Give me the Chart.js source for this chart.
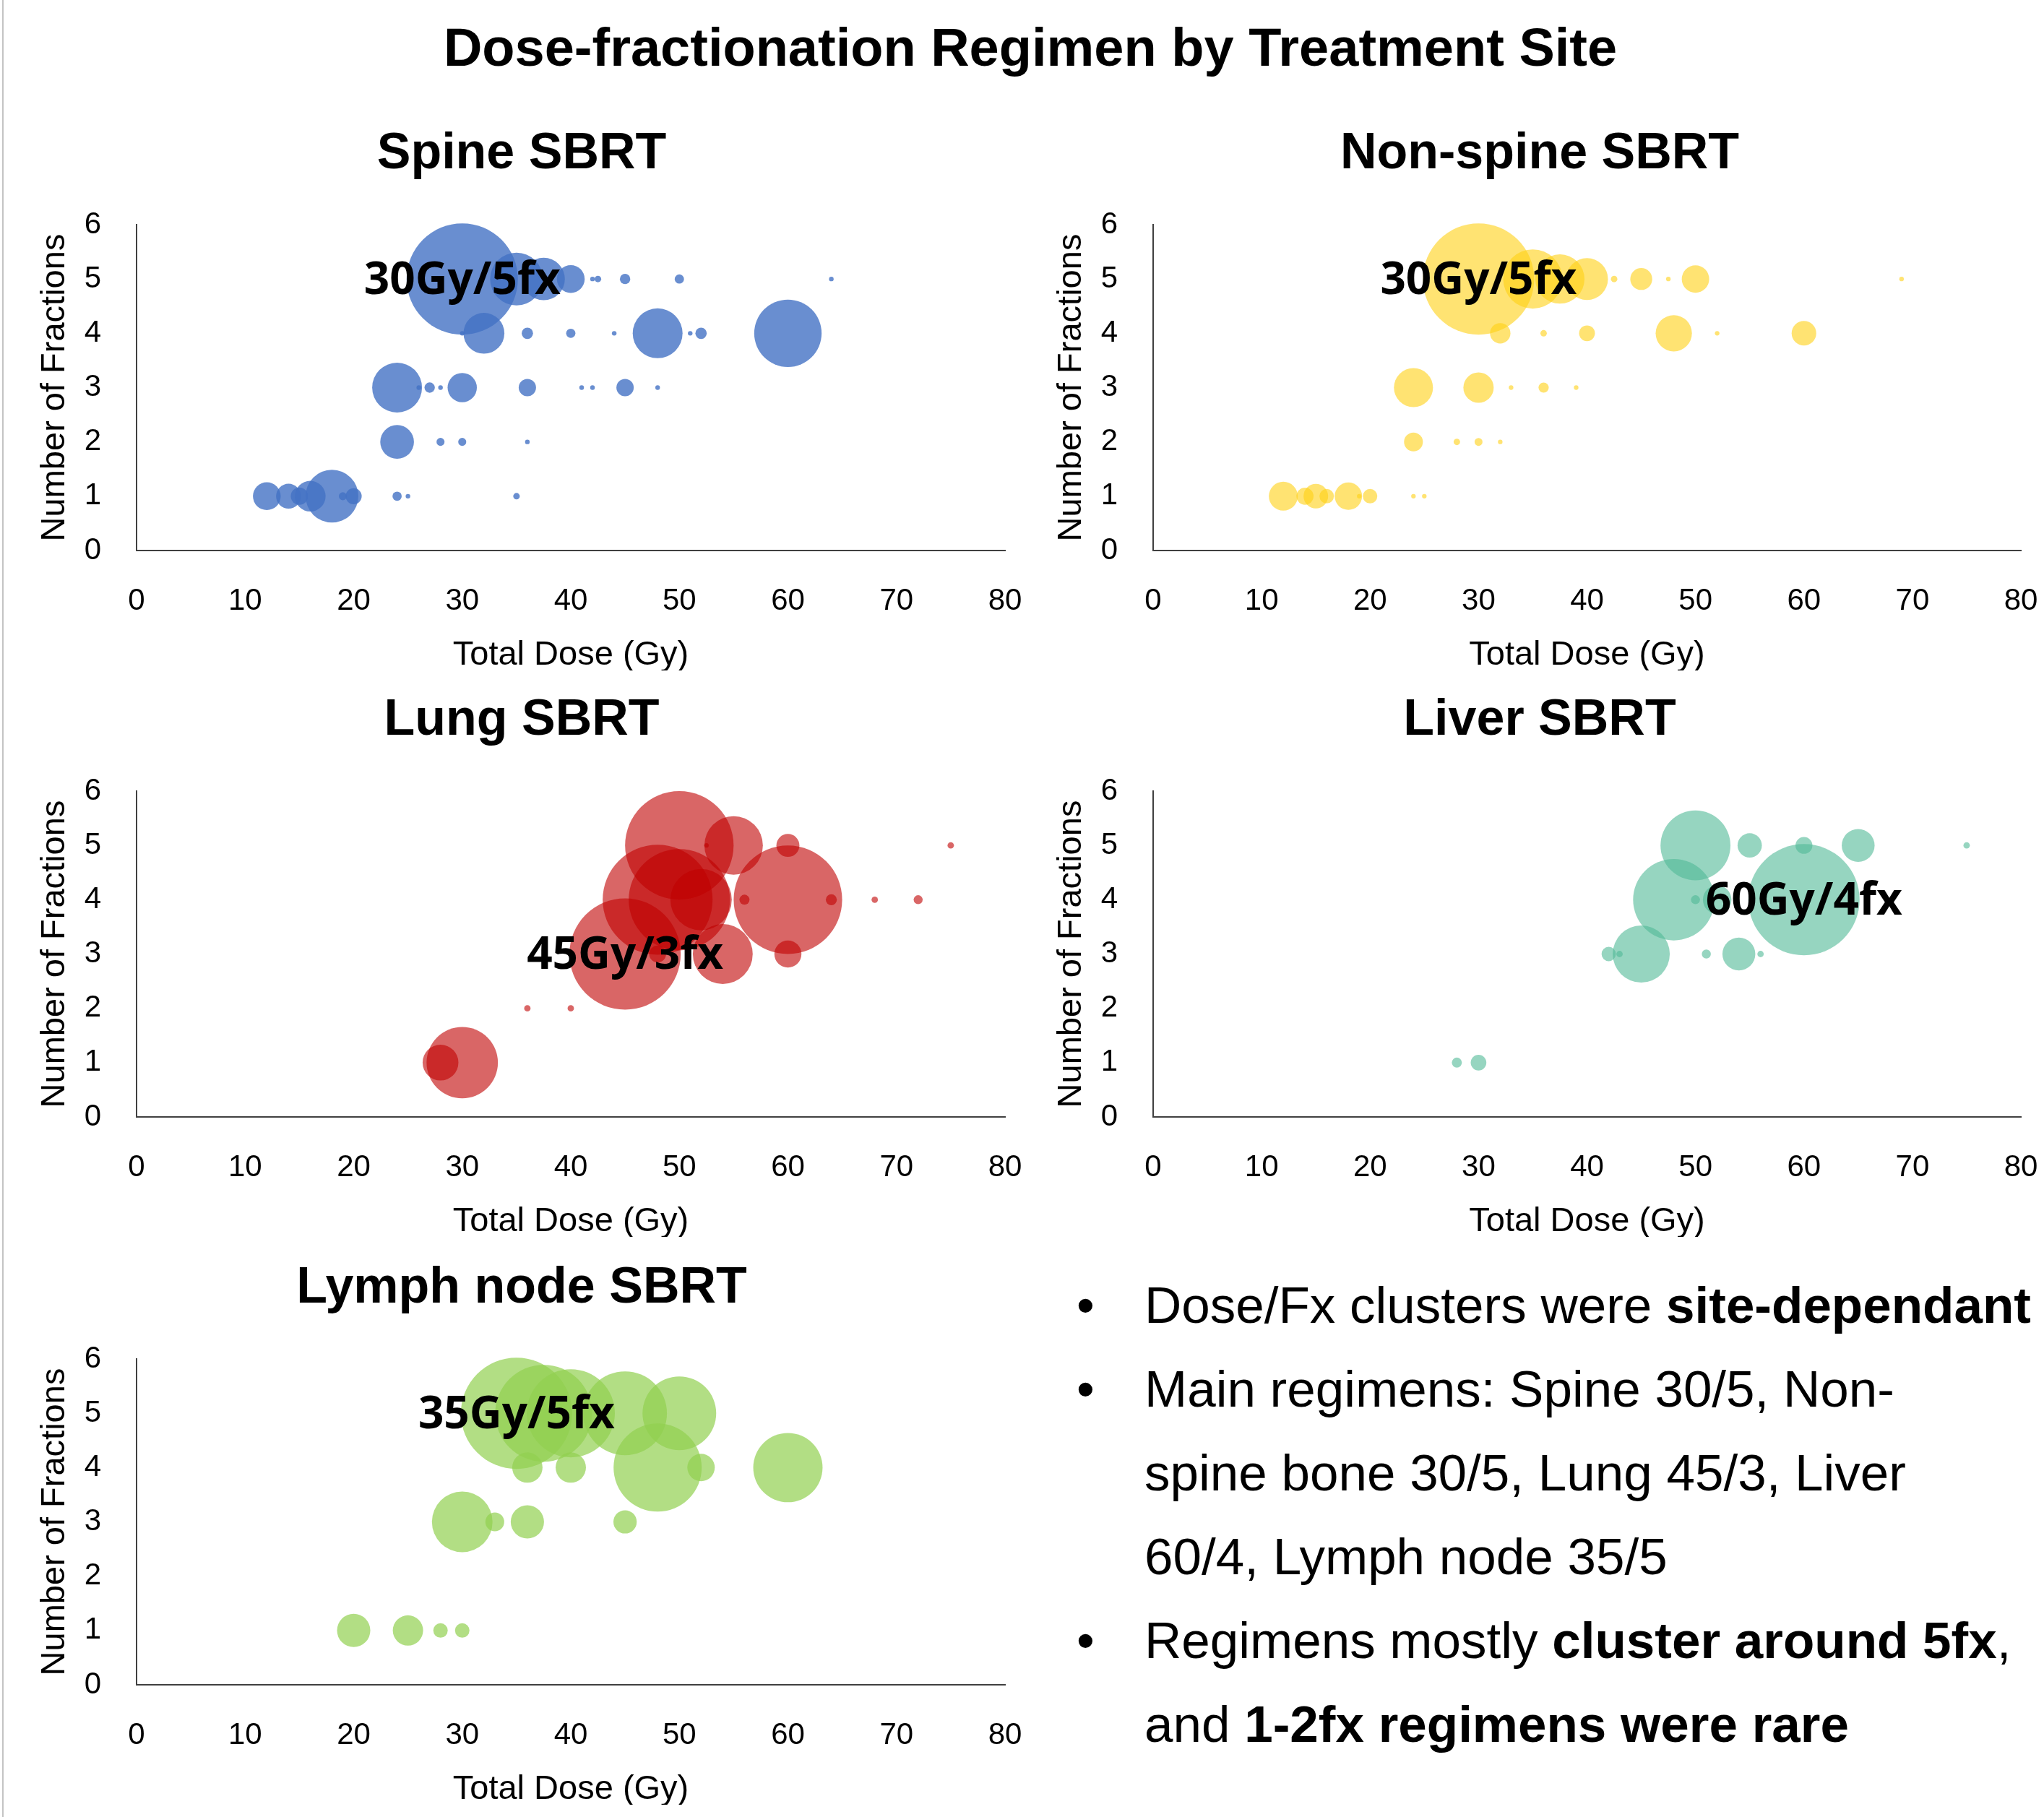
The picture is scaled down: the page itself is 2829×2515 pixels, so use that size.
<!DOCTYPE html>
<html>
<head>
<meta charset="utf-8">
<title>Dose-fractionation Regimen by Treatment Site</title>
<script src="https://cdn.jsdelivr.net/npm/chart.js@4.4.1/dist/chart.umd.min.js"></script>
<style>
  html, body { margin: 0; padding: 0; background: #fff; }
  body { width: 2829px; height: 2515px; position: relative; overflow: hidden;
         font-family: "Liberation Sans", Arial, sans-serif; color: #000; }
  .edge { position: absolute; left: 3px; top: 0; width: 2px; height: 2515px; background: #c4c4c4; }
  #mainTitle { position: absolute; left: 426px; width: 2000px; top: 29px; text-align: center;
               font-weight: bold; font-size: 74px; line-height: 73px; white-space: nowrap; }
  canvas { position: absolute; }
  #notes { position: absolute; left: 1584px; top: 1749px; font-size: 71px; line-height: 116px; white-space: nowrap; }
  #notes .item { position: relative; }
  #notes .item::before { content: "\2022"; position: absolute; left: -94px; }
</style>
</head>
<body>
<div class="edge"></div>
<div id="mainTitle">Dose-fractionation Regimen by Treatment Site</div>
<canvas id="spine" width="1420" height="759"></canvas>
<canvas id="nonspine" width="1409" height="759"></canvas>
<canvas id="lung" width="1420" height="759"></canvas>
<canvas id="liver" width="1409" height="759"></canvas>
<canvas id="lymph" width="1420" height="759"></canvas>
<div id="notes">
  <div class="item">Dose/Fx clusters were <b>site-dependant</b></div>
  <div class="item">Main regimens: Spine 30/5, Non-<br>spine bone 30/5, Lung 45/3, Liver<br>60/4, Lymph node 35/5</div>
  <div class="item">Regimens mostly <b>cluster around 5fx</b>,<br>and <b>1-2fx regimens were rare</b></div>
</div>
<script>
// axis ticks
const X_TICKS = [0, 10, 20, 30, 40, 50, 60, 70, 80];
const Y_TICKS = [0, 1, 2, 3, 4, 5, 6];

// Spine SBRT: total dose (Gy), fractions, patients
const spineDose  = [30, 35, 37.5, 40, 42, 42.5, 45, 50, 64,  30, 32, 36, 40, 44, 48, 51, 52, 60,  24, 26, 27, 28, 30, 36, 41, 42, 45, 48,  24, 28, 30, 36,  12, 14, 15, 16, 18, 19, 20, 24, 25, 35];
const spineFx    = [5, 5, 5, 5, 5, 5, 5, 5, 5,  4, 4, 4, 4, 4, 4, 4, 4, 4,  3, 3, 3, 3, 3, 3, 3, 3, 3, 3,  2, 2, 2, 2,  1, 1, 1, 1, 1, 1, 1, 1, 1, 1];
const spineCount = [578, 130, 84, 36, 1, 2, 5, 4, 1,  1, 78, 6, 4, 1, 116, 1, 6, 212,  116, 1, 5, 1, 40, 14, 1, 1, 14, 1,  53, 3, 3, 1,  36, 29, 14, 44, 130, 3, 12, 4, 1, 2];

// Non-spine SBRT
const nonspineDose  = [30, 35, 37.5, 40, 42.5, 45, 47.5, 50, 69,  32, 36, 40, 48, 52, 60,  24, 30, 33, 36, 39,  24, 28, 30, 32,  12, 14, 15, 16, 18, 19, 20, 24, 25];
const nonspineFx    = [5, 5, 5, 5, 5, 5, 5, 5, 5,  4, 4, 4, 4, 4, 4,  3, 3, 3, 3, 3,  2, 2, 2, 2,  1, 1, 1, 1, 1, 1, 1, 1, 1];
const nonspineCount = [593, 168, 116, 84, 2, 23, 1, 36, 1,  20, 2, 12, 63, 1, 29,  73, 44, 1, 5, 1,  17, 2, 3, 1,  40, 14, 29, 10, 36, 1, 10, 1, 1];

// Lung SBRT
const lungDose  = [50, 52.5, 55, 60, 75,  48, 50, 52, 56, 60, 64, 68, 72,  45, 48, 54, 60,  36, 40,  28, 30];
const lungFx    = [5, 5, 5, 5, 5,  4, 4, 4, 4, 4, 4, 4, 4,  3, 3, 3, 3,  2, 2,  1, 1];
const lungCount = [578, 1, 168, 26, 2,  593, 504, 185, 5, 578, 6, 2, 4,  608, 14, 176, 36,  2, 2,  63, 250];

// Liver SBRT
const liverDose  = [50, 55, 60, 65, 75,  48, 50, 52, 60,  42, 43, 45, 51, 54, 56,  28, 30];
const liverFx    = [5, 5, 5, 5, 5,  4, 4, 4, 4,  3, 3, 3, 3, 3, 3,  1, 1];
const liverCount = [240, 29, 14, 53, 2,  325, 4, 40, 608,  10, 2, 160, 4, 53, 2,  5, 12];

// Lymph node SBRT
const lymphDose  = [35, 37.5, 40, 45, 50,  36, 40, 48, 52, 60,  30, 33, 36, 45,  20, 25, 28, 30];
const lymphFx    = [5, 5, 5, 5, 5,  4, 4, 4, 4, 4,  3, 3, 3, 3,  1, 1, 1, 1];
const lymphCount = [593, 449, 372, 336, 260,  44, 44, 372, 36, 230,  176, 17, 53, 26,  53, 44, 10, 10];

// main regimen per site
const siteNames      = ["Spine SBRT", "Non-spine SBRT", "Lung SBRT", "Liver SBRT", "Lymph node SBRT"];
const mainDose       = [30, 30, 45, 60, 35];
const mainFx         = [5, 5, 3, 4, 5];
const mainLabel      = ["30Gy/5fx", "30Gy/5fx", "45Gy/3fx", "60Gy/4fx", "35Gy/5fx"];

const FONT = '"Liberation Sans", Arial, sans-serif';
const R_MAX = 77; // px radius of the biggest bubble in each panel

function bubbleR(n, nMax) {
  return R_MAX * Math.sqrt(n / nMax);
}

// centred data label on the main regimen
const regimenLabel = {
  id: "regimenLabel",
  afterDatasetsDraw(chart, args, opts) {
    const { ctx, scales: { x, y } } = chart;
    ctx.save();
    ctx.font = 'bold 62px "Open Sans"';
    ctx.fillStyle = "#000";
    ctx.textAlign = "center";
    ctx.textBaseline = "middle";
    ctx.fillText(opts.text, x.getPixelForValue(opts.dose), y.getPixelForValue(opts.fx) + 3);
    ctx.restore();
  }
};

const panels = [
  { id: "spine",    dose: spineDose,    fx: spineFx,    count: spineCount,    color: "rgba(68,114,196,0.8)", left: 0,    top: 169,  padL: 53, padR: 29, yTitlePad: 0 },
  { id: "nonspine", dose: nonspineDose, fx: nonspineFx, count: nonspineCount, color: "rgba(255,208,20,0.6)", left: 1420, top: 169,  padL: 45, padR: 32, yTitlePad: -5.5 },
  { id: "lung",     dose: lungDose,     fx: lungFx,     count: lungCount,     color: "rgba(192,0,0,0.6)",    left: 0,    top: 953,  padL: 53, padR: 29, yTitlePad: 0 },
  { id: "liver",    dose: liverDose,    fx: liverFx,    count: liverCount,    color: "rgba(80,185,150,0.6)", left: 1420, top: 953,  padL: 45, padR: 32, yTitlePad: -5.5 },
  { id: "lymph",    dose: lymphDose,    fx: lymphFx,    count: lymphCount,    color: "rgba(146,208,80,0.7)", left: 0,    top: 1739, padL: 53, padR: 29, yTitlePad: 0 }
];

panels.forEach((p, k) => {
  const canvas = document.getElementById(p.id);
  canvas.style.left = p.left + "px";
  canvas.style.top = p.top + "px";
  const yWidth = (p.left === 0 ? 189 : 1596 - p.left) - p.padL;
  const nMax = Math.max(...p.count);
  const points = p.dose.map((d, i) => ({ x: d, y: p.fx[i], r: bubbleR(p.count[i], nMax) }));

  new Chart(canvas, {
    type: "bubble",
    data: {
      datasets: [{
        data: points,
        backgroundColor: p.color,
        borderWidth: 0,
        hoverBorderWidth: 0,
        clip: false
      }]
    },
    options: {
      responsive: false,
      animation: false,
      devicePixelRatio: 1,
      events: [],
      layout: { autoPadding: false, padding: { left: p.padL, right: p.padR, top: 0, bottom: 0 } },
      plugins: {
        legend: { display: false },
        tooltip: { enabled: false },
        title: {
          display: true,
          text: siteNames[k],
          color: "#000",
          font: { family: FONT, size: 70, weight: "bold", lineHeight: 1.2 },
          padding: { top: 3, bottom: 55 }
        },
        regimenLabel: { text: mainLabel[k], dose: mainDose[k], fx: mainFx[k] }
      },
      scales: {
        x: {
          type: "linear", min: 0, max: 80,
          afterBuildTicks: s => { s.ticks = X_TICKS.map(v => ({ value: v })); },
          afterFit: s => { s.height = 166; s.paddingLeft = 0; s.paddingRight = 0; },
          grid: { display: false, drawTicks: false },
          border: { display: true, color: "#404040", width: 2 },
          ticks: { padding: 45, color: "#000", autoSkip: false, maxRotation: 0, font: { family: FONT, size: 42 } },
          title: { display: true, text: "Total Dose (Gy)", color: "#000", padding: { top: 0, bottom: -3 },
                   font: { family: FONT, size: 47, lineHeight: 1 } }
        },
        y: {
          type: "linear", min: 0, max: 6,
          afterBuildTicks: s => { s.ticks = Y_TICKS.map(v => ({ value: v })); },
          afterFit: s => { s.width = yWidth; s.paddingTop = 0; s.paddingBottom = 0; },
          grid: { display: false, drawTicks: false },
          border: { display: true, color: "#404040", width: 2 },
          ticks: { padding: 49, color: "#000", font: { family: FONT, size: 42 } },
          title: { display: true, text: "Number of Fractions", color: "#000", padding: { top: p.yTitlePad, bottom: 0 },
                   font: { family: FONT, size: 47, lineHeight: 1 } }
        }
      }
    },
    plugins: [regimenLabel]
  });
});
</script>
</body>
</html>
